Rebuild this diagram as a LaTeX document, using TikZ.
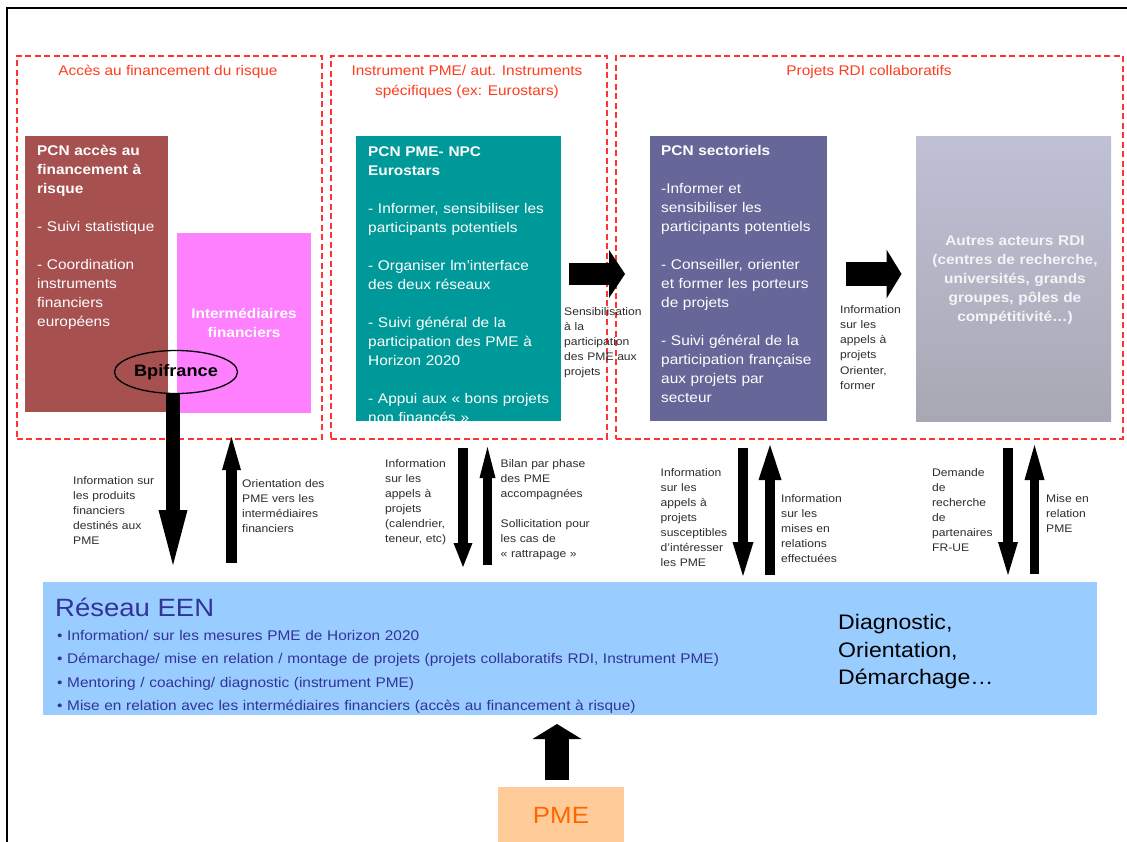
\documentclass[tikz,border=0pt]{standalone}
\usepackage{fontspec}
\setmainfont{Liberation Sans}[FakeStretch=1.1]
\usetikzlibrary{arrows.meta,shapes.geometric}
\setlength{\parindent}{0pt}
\definecolor{dashred}{RGB}{255,51,51}
\definecolor{titlered}{RGB}{255,60,30}
\definecolor{brownbox}{RGB}{166,80,80}
\definecolor{magbox}{RGB}{255,128,255}
\definecolor{tealbox}{RGB}{0,153,153}
\definecolor{secbox}{RGB}{102,102,153}
\definecolor{autrestop}{RGB}{192,192,214}
\definecolor{autresbot}{RGB}{168,168,180}
\definecolor{autrestext}{RGB}{244,244,248}
\definecolor{eenblue}{RGB}{153,204,255}
\definecolor{eentext}{RGB}{51,51,153}
\definecolor{pmebox}{RGB}{255,204,153}
\definecolor{pmetext}{RGB}{255,102,0}
\definecolor{labelgray}{RGB}{45,45,45}
\begin{document}
\begin{tikzpicture}[x=1pt,y=-1pt,
  grp/.style={draw=dashred, line width=1.6pt, dash pattern=on 6pt off 3.5pt, anchor=north west, inner sep=0pt},
  grptitle/.style={inner sep=0pt, text=titlered, font=\fontsize{14}{19.5}\selectfont},
  fbox/.style={anchor=north west, inner sep=0pt, outer sep=0pt},
  boxtext/.style={anchor=north west, inner sep=0pt, align=left, text width=260pt, text=white, font=\fontsize{14}{19}\selectfont},
  lab/.style={anchor=north west, inner sep=0pt, align=left, text width=120pt, text=labelgray, font=\fontsize{11}{15}\selectfont},
  tipd/.style args={#1/#2}{-{Triangle[length=#1pt,width=#2pt,line width=0pt]}}
]
\useasboundingbox (0,0) rectangle (1127,841);
\clip (0,0) rectangle (1127,841);
\fill[white] (0,0) rectangle (1127,841);

% outer frame
\draw[line width=1.3pt] (1135,8) -- (7,8) -- (7,850);

% dashed groups
\node[grp, minimum width=305pt, minimum height=383pt] (g1) at (16,55) {};
\node[grp, minimum width=276pt, minimum height=383pt] (g2) at (330,55) {};
\node[grp, minimum width=507pt, minimum height=383pt] (g3) at (615,55) {};

\node[grptitle, anchor=base] (t1) at (168,75) {Accès au financement du risque};
\node[grptitle, anchor=north, align=center] (t2) at (467,62.1) {\strut Instrument PME/ aut. Instruments\\ spécifiques (ex: Eurostars)};
\node[grptitle, anchor=base] (t3) at (869,75) {Projets RDI collaboratifs};

% coloured boxes
\node[fbox, fill=brownbox, minimum width=143pt, minimum height=276pt] (pcnrisk) at (25,136) {};
\node[fbox, fill=magbox, minimum width=134pt, minimum height=180pt] (interm) at (177,233) {};
\node[fbox, fill=tealbox, minimum width=205pt, minimum height=285pt] (pcnpme) at (356,136) {};
\node[fbox, fill=secbox, minimum width=177pt, minimum height=285pt] (pcnsect) at (650,136) {};
\node[fbox, top color=autrestop, bottom color=autresbot, minimum width=195pt, minimum height=285pt] (autres) at (916,136) {};

% box texts
\node[boxtext] (trisk) at (37,141.7) {\strut\bfseries PCN accès au\\ financement à\\ risque\\[19pt]\mdseries - Suivi statistique\\[19pt] - Coordination\\ instruments\\ financiers\\ européens};
\node[boxtext, anchor=north, align=center, text width=130pt] (tint) at (244,304.7) {\strut\bfseries Intermédiaires\\ financiers};
\begin{scope}
\clip (pcnpme.north west) rectangle (pcnpme.south east);
\node[boxtext] (tpme) at (368,143.4) {\strut\bfseries PCN PME- NPC\\ Eurostars\\[19pt]\mdseries - Informer, sensibiliser les\\ participants potentiels\\[19pt] - Organiser lm'interface\\ des deux réseaux\\[19pt] - Suivi général de la\\ participation des PME à\\ Horizon 2020\\[19pt] - Appui aux « bons projets\\ non financés »};
\end{scope}
\node[boxtext] (tsect) at (661,142.4) {\strut\bfseries PCN sectoriels\\[19pt]\mdseries -Informer et\\ sensibiliser les\\ participants potentiels\\[19pt] - Conseiller, orienter\\ et former les porteurs\\ de projets\\[19pt] - Suivi général de la\\ participation française\\ aux projets par\\ secteur};
\node[boxtext, anchor=north, align=center, text width=200pt, text=autrestext] (taut) at (1015,231.7) {\strut\bfseries Autres acteurs RDI\\ (centres de recherche,\\ universités, grands\\ groupes, pôles de\\ compétitivité…)};

% Bpifrance
\node[draw, fill=none, ellipse, line width=1.3pt, minimum width=123pt, minimum height=43pt, inner sep=0pt, font=\fontsize{16.5}{18}\selectfont\bfseries] (bpi) at (176,372) {Bpifrance};

% labels
\node[lab] (l1) at (73,473.5) {\strut Information sur\\ les produits\\ financiers\\ destinés aux\\ PME};
\node[lab] (l2) at (242,476.5) {\strut Orientation des\\ PME vers les\\ intermédiaires\\ financiers};
\node[lab] (l3) at (385,456.5) {\strut Information\\ sur les\\ appels à\\ projets\\ (calendrier,\\ teneur, etc)};
\node[lab] (l4) at (500.5,456.5) {\strut Bilan par phase\\ des PME\\ accompagnées\\[15pt] Sollicitation pour\\ les cas de\\ « rattrapage »};
\node[lab] (l5) at (660.5,465.5) {\strut Information\\ sur les\\ appels à\\ projets\\ susceptibles\\ d'intéresser\\ les PME};
\node[lab] (l6) at (781,491.5) {\strut Information\\ sur les\\ mises en\\ relations\\ effectuées};
\node[lab] (l7) at (932,465.5) {\strut Demande\\ de\\ recherche\\ de\\ partenaires\\ FR-UE};
\node[lab] (l8) at (1046,491.5) {\strut Mise en\\ relation\\ PME};
\node[lab] (l9) at (564,305.2) {\strut Sensibilisation\\ à la\\ participation\\ des PME aux\\ projets};
\node[lab, font=\fontsize{11}{15.2}\selectfont] (l10) at (840,302.5) {\strut Information\\ sur les\\ appels à\\ projets\\ Orienter,\\ former};

% EEN
\node[fbox, fill=eenblue, minimum width=1054pt, minimum height=133pt] (een) at (43,582) {};
\node[anchor=base west, inner sep=0pt, text=eentext, font=\fontsize{25}{30}\selectfont] (eentitle) at (55,616) {Réseau EEN};
\node[anchor=north west, inner sep=0pt, align=left, text=eentext, text width=720pt, font=\fontsize{14}{23.4}\selectfont] (eenlist) at (57,623.7) {\strut • Information/ sur les mesures PME de Horizon 2020\\ • Démarchage/ mise en relation / montage de projets (projets collaboratifs RDI, Instrument PME)\\ • Mentoring / coaching/ diagnostic (instrument PME)\\ • Mise en relation avec les intermédiaires financiers (accès au financement à risque)};
\node[anchor=north west, inner sep=0pt, align=left, text width=200pt, font=\fontsize{21}{27.5}\selectfont] (diag) at (838,610.3) {\strut Diagnostic,\\ Orientation,\\ Démarchage…};

% PME
\node[fbox, fill=pmebox, minimum width=126pt, minimum height=56pt, text=pmetext, font=\fontsize{23.5}{28}\selectfont] (pme) at (498,787) {PME};

% arrows
\coordinate (a1e) at (173,565);
\draw[line width=14pt, tipd=55/29] (bpi.south -| a1e) -- (a1e);
\coordinate (a2s) at (231.5,563); \coordinate (a2e) at (231.5,437);
\draw[line width=11pt, tipd=33/19] (a2s) -- (a2e);
\coordinate (a3s) at (463,448); \coordinate (a3e) at (463,567);
\draw[line width=10pt, tipd=24/19] (a3s) -- (a3e);
\coordinate (a4s) at (487.5,565); \coordinate (a4e) at (487.5,447);
\draw[line width=9pt, tipd=31/16] (a4s) -- (a4e);
\coordinate (a5s) at (743,448); \coordinate (a5e) at (743,576);
\draw[line width=10pt, tipd=34/21] (a5s) -- (a5e);
\coordinate (a6s) at (770,575); \coordinate (a6e) at (770,445);
\draw[line width=10pt, tipd=35/23] (a6s) -- (a6e);
\coordinate (a7s) at (1008,448); \coordinate (a7e) at (1008,575);
\draw[line width=10pt, tipd=33/20] (a7s) -- (a7e);
\coordinate (a8s) at (1034.5,574); \coordinate (a8e) at (1034.5,445);
\draw[line width=9pt, tipd=35/20] (a8s) -- (a8e);
\coordinate (h1s) at (569,274); \coordinate (h1e) at (625,274);
\draw[line width=22pt, tipd=16/48] (h1s) -- (h1e);
\coordinate (h2s) at (846,274); \coordinate (h2e) at (901.5,274);
\draw[line width=24pt, tipd=15/49] (h2s) -- (h2e);
\coordinate (a9s) at (557,780); \coordinate (a9e) at (557,724);
\draw[line width=24pt, tipd=15/49] (a9s) -- (a9e);
\end{tikzpicture}
\end{document}
